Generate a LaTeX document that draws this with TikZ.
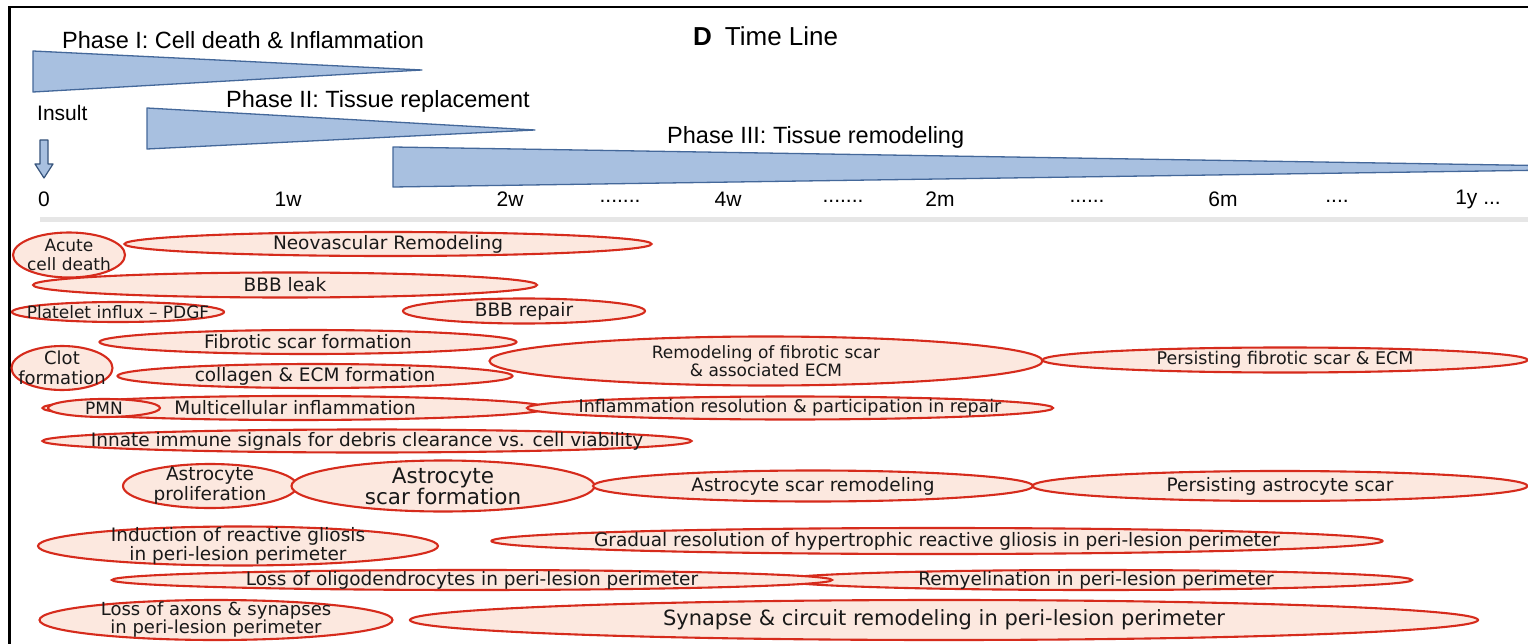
\documentclass[tikz,border=0pt]{standalone}
\usepackage{fontspec}
\setmainfont{Liberation Sans}
\newfontfamily\evfont{DejaVu Sans}
\usetikzlibrary{shapes.geometric}
\definecolor{phfill}{HTML}{A8C0E0}
\definecolor{phline}{HTML}{44689A}
\definecolor{evfill}{HTML}{FCE8DF}
\definecolor{evline}{HTML}{D62B1C}
\definecolor{sepgray}{HTML}{E6E6E6}

\begin{document}
\begin{tikzpicture}[x=1pt,y=-1pt,
  phase/.style={fill=phfill,draw=phline,line width=1.3pt,line join=round},
  phtext/.style={anchor=west,inner sep=0pt,font=\fontsize{23.5}{26}\selectfont},
  tick/.style={inner sep=0pt,font=\fontsize{21}{24}\selectfont},
  evt/.style={ellipse,draw=evline,fill=evfill,line width=2.1pt,inner sep=0pt},
  evtxt/.style={align=center,inner sep=0pt,text=black!90,font=\evfont\fontsize{18.5}{20}\selectfont}]
\useasboundingbox (0,0) rectangle (1528,644);
\fill[white] (0,0) rectangle (1528,644);
\draw[line width=2.6pt] (1540,7) -- (9.5,7) -- (9.5,660);

% phases
\draw[phase] (33,51) -- (422,70) -- (33,92) -- cycle;
\draw[phase] (147,108) -- (535,130) -- (147,149) -- cycle;
\draw[phase] (393,147) -- (1690,168) -- (393,187) -- cycle;
\node[phtext] (ph1) at (62,40) {Phase I: Cell death \& Inflammation};
\node[phtext] (ph2) at (226,101) {Phase II: Tissue replacement};
\node[phtext] (ph3) at (667,137) {Phase III: Tissue remodeling};
\node[phtext,font=\fontsize{26}{28}\selectfont] (title) at (693,36) {\textbf{D}\hspace{13pt}Time Line};
\node[phtext,font=\fontsize{21}{24}\selectfont] (insult) at (37,113) {Insult};
\draw[phase,draw=phline!80!black,line width=1.2pt] (40,140) -- (48,140) -- (48,164) -- (53,164) -- (44,178) -- (35,164) -- (40,164) -- cycle;

% time axis
\node[tick] (t0) at (44,199) {0};
\node[tick] (t1w) at (288,199) {1w};
\node[tick] (t2w) at (510,199) {2w};
\node[tick] (d1) at (620,201) {.......};
\node[tick] (t4w) at (728,199) {4w};
\node[tick] (d2) at (843,201) {.......};
\node[tick] (t2m) at (940,199) {2m};
\node[tick] (d3) at (1087,201) {......};
\node[tick] (t6m) at (1223,199) {6m};
\node[tick] (d4) at (1337,201) {....};
\node[tick] (t1y) at (1478,199) {1y ...};
\draw[sepgray,line width=5pt] (40,220) -- (1528,220);

% events
\node[evt,minimum width=527,minimum height=24,label={[evtxt]center:Neovascular Remodeling}] (neo) at (388,244) {};
\node[evt,minimum width=112,minimum height=45,label={[evtxt,font=\evfont\fontsize{17}{19}\selectfont]center:Acute\\cell death}] (acute) at (69,255) {};
\node[evt,minimum width=504,minimum height=25,label={[evtxt]center:BBB leak}] (leak) at (285,285) {};
\node[evt,minimum width=212,minimum height=20,label={[evtxt,font=\evfont\fontsize{17}{19}\selectfont]center:Platelet influx \textendash{} PDGF}] (platelet) at (118,312) {};
\node[evt,minimum width=242,minimum height=25,label={[evtxt]center:BBB repair}] (repair) at (524,311) {};
\node[evt,minimum width=553,minimum height=49,label={[evtxt,font=\evfont\fontsize{17}{18}\selectfont]center:Remodeling of fibrotic scar\\\& associated ECM}] (remfib) at (766,361) {};
\node[evt,minimum width=485,minimum height=25,label={[evtxt,font=\evfont\fontsize{17.5}{19}\selectfont]center:Persisting fibrotic scar \& ECM}] (persfib) at (1285,360) {};
\node[evt,minimum width=417,minimum height=24,label={[evtxt]center:Fibrotic scar formation}] (fibscar) at (308,342) {};
\node[evt,minimum width=395,minimum height=24,label={[evtxt]center:collagen \& ECM formation}] (collagen) at (315,376) {};
\node[evt,minimum width=101,minimum height=44,label={[evtxt,font=\evfont\fontsize{18}{20}\selectfont]center:Clot\\formation}] (clot) at (62,368) {};
\node[evt,minimum width=505,minimum height=24,label={[evtxt]center:Multicellular inflammation}] (multi) at (295,408) {};
\node[evt,minimum width=112,minimum height=18,label={[evtxt,font=\evfont\fontsize{17}{19}\selectfont]center:PMN}] (pmn) at (104,408) {};
\node[evt,minimum width=526,minimum height=23,label={[evtxt,font=\evfont\fontsize{17.5}{19}\selectfont]center:Inflammation resolution \& participation in repair}] (infres) at (790,408) {};
\node[evt,minimum width=649,minimum height=23,label={[evtxt]center:Innate immune signals for debris clearance vs. cell viability}] (innate) at (367,441) {};
\node[evt,minimum width=174,minimum height=44,label={[evtxt]center:Astrocyte\\proliferation}] (astprol) at (210,486) {};
\node[evt,minimum width=303,minimum height=51,label={[evtxt,font=\evfont\fontsize{21.5}{21}\selectfont]center:Astrocyte\\scar formation}] (astscar) at (443,486) {};
\node[evt,minimum width=440,minimum height=31,label={[evtxt]center:Astrocyte scar remodeling}] (astrem) at (813,486) {};
\node[evt,minimum width=495,minimum height=30,label={[evtxt]center:Persisting astrocyte scar}] (persast) at (1280,486) {};
\node[evt,minimum width=400,minimum height=39,label={[evtxt,font=\evfont\fontsize{18.5}{19}\selectfont]center:Induction of reactive gliosis\\in peri-lesion perimeter}] (induct) at (238,546) {};
\node[evt,minimum width=891,minimum height=26,label={[evtxt]center:Gradual resolution of hypertrophic reactive gliosis in peri-lesion perimeter}] (gradual) at (937,541) {};
\node[evt,minimum width=632,minimum height=20,label={[evtxt]center:Remyelination in peri-lesion perimeter}] (remyel) at (1096,580) {};
\node[evt,minimum width=720,minimum height=20,label={[evtxt]center:Loss of oligodendrocytes in peri-lesion perimeter}] (oligo) at (472,580) {};
\node[evt,minimum width=353,minimum height=40,label={[evtxt,font=\evfont\fontsize{18}{18}\selectfont]center:Loss of axons \& synapses\\in peri-lesion perimeter}] (axons) at (216,620) {};
\node[evt,minimum width=1068,minimum height=40,label={[evtxt,font=\evfont\fontsize{21}{22}\selectfont]center:Synapse \& circuit remodeling in peri-lesion perimeter}] (synapse) at (944,620) {};
\end{tikzpicture}
\end{document}
